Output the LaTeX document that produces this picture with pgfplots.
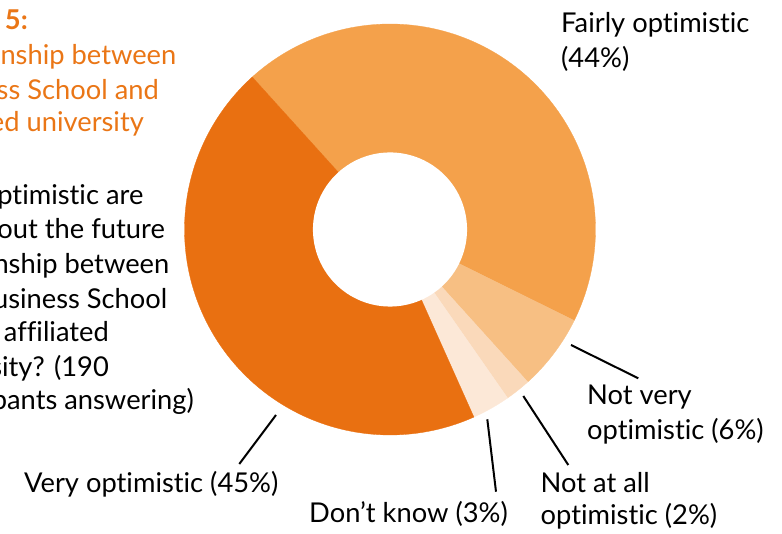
\documentclass[border=0pt]{standalone}
\usepackage{pgfplots}
\pgfplotsset{compat=1.18}
\usepackage{pgfplotstable}
\usepackage{fontspec}
\setmainfont{Lato}[Ligatures={NoCommon,NoRare}]
\definecolor{cVery}{RGB}{233,112,17}
\definecolor{cFairly}{RGB}{244,161,75}
\definecolor{cNotVery}{RGB}{247,191,131}
\definecolor{cNotAtAll}{RGB}{250,217,186}
\definecolor{cDontKnow}{RGB}{252,232,215}
\definecolor{cTitle}{RGB}{234,118,22}
\pgfplotstableread{
label value
Fairly 44
NotVery 6
NotAtAll 2
DontKnow 3
Very 45
}\slices
\begin{document}
\begin{tikzpicture}
\useasboundingbox (0pt,0pt) rectangle (782pt,534pt);
\clip (0pt,0pt) rectangle (782pt,534pt);
\pgfplotstablegetelem{0}{value}\of\slices \let\vA\pgfplotsretval
\pgfplotstablegetelem{1}{value}\of\slices \let\vB\pgfplotsretval
\pgfplotstablegetelem{2}{value}\of\slices \let\vC\pgfplotsretval
\pgfplotstablegetelem{3}{value}\of\slices \let\vD\pgfplotsretval
\pgfplotstablegetelem{4}{value}\of\slices \let\vE\pgfplotsretval
\pgfmathsetmacro{\aS}{132.1}
\pgfmathsetmacro{\aA}{\aS-3.6*\vA}
\pgfmathsetmacro{\aB}{\aA-3.6*\vB}
\pgfmathsetmacro{\aC}{\aB-3.6*\vC}
\pgfmathsetmacro{\aD}{\aC-3.6*\vD}
\pgfmathsetmacro{\aE}{\aD-3.6*\vE}
\begin{axis}[at={(390pt,304.5pt)}, anchor=center, width=411pt, height=411pt,
  scale only axis, xmin=-1, xmax=1, ymin=-1, ymax=1, hide axis, clip=false]
\addplot[fill=cFairly, draw=cFairly, line width=0.3pt, domain=\aA:\aS, samples=120] ({cos(x)},{sin(x)}) -- (axis cs:0,0) -- cycle;
\addplot[fill=cNotVery, draw=cNotVery, line width=0.3pt, domain=\aB:\aA, samples=30] ({cos(x)},{sin(x)}) -- (axis cs:0,0) -- cycle;
\addplot[fill=cNotAtAll, draw=cNotAtAll, line width=0.3pt, domain=\aC:\aB, samples=15] ({cos(x)},{sin(x)}) -- (axis cs:0,0) -- cycle;
\addplot[fill=cDontKnow, draw=cDontKnow, line width=0.3pt, domain=\aD:\aC, samples=15] ({cos(x)},{sin(x)}) -- (axis cs:0,0) -- cycle;
\addplot[fill=cVery, draw=cVery, line width=0.3pt, domain=\aE:\aD, samples=120] ({cos(x)},{sin(x)}) -- (axis cs:0,0) -- cycle;
\addplot[fill=white, draw=none, domain=0:360, samples=120] ({0.375*cos(x)},{0.375*sin(x)}) -- cycle;
\end{axis}
% leader lines
\draw[line width=2pt] (571pt,189pt) -- (638.3pt,155.7pt);
\draw[line width=2pt] (523.3pt,138pt) -- (568.3pt,69pt);
\draw[line width=2pt] (487.3pt,114.7pt) -- (496pt,42.3pt);
\draw[line width=2pt] (276pt,119pt) -- (239.3pt,70pt);
% labels
\fontsize{27.3}{35}\selectfont
\node[anchor=base west, inner sep=0] at (561pt,501pt) {Fairly optimistic};
\node[anchor=base west, inner sep=0] at (561pt,466pt) {(44\%)};
\node[anchor=base west, inner sep=0] at (587pt,129pt) {Not very};
\node[anchor=base west, inner sep=0] at (587pt,94pt) {optimistic (6\%)};
\node[anchor=base west, inner sep=0] at (540.5pt,41pt) {Not at all};
\node[anchor=base west, inner sep=0] at (540.5pt,9pt) {optimistic (2\%)};
\node[anchor=base west, inner sep=0] at (309pt,11pt) {Don’t know (3\%)};
\node[anchor=base west, inner sep=0] at (24pt,41pt) {Very optimistic (45\%)};
% title
\node[anchor=base east, inner sep=0, text=cTitle, font=\bfseries] at (28pt,504pt) {Figure 5:};
\node[anchor=base east, inner sep=0, text=cTitle] at (176.5pt,469pt) {Relationship between};
\node[anchor=base east, inner sep=0, text=cTitle] at (159pt,434pt) {Business School and};
\node[anchor=base east, inner sep=0, text=cTitle] at (144pt,402pt) {affiliated university};
% question
\node[anchor=base east, inner sep=0] at (143.5pt,329pt) {How optimistic are};
\node[anchor=base east, inner sep=0] at (165pt,295.7pt) {you about the future};
\node[anchor=base east, inner sep=0] at (169.5pt,260.7pt) {relationship between};
\node[anchor=base east, inner sep=0] at (167.5pt,225.7pt) {the Business School};
\node[anchor=base east, inner sep=0] at (109pt,192.3pt) {and its affiliated};
\node[anchor=base east, inner sep=0] at (109pt,157.3pt) {university? (190};
\node[anchor=base east, inner sep=0] at (194pt,124pt) {participants answering)};
\end{tikzpicture}
\end{document}
